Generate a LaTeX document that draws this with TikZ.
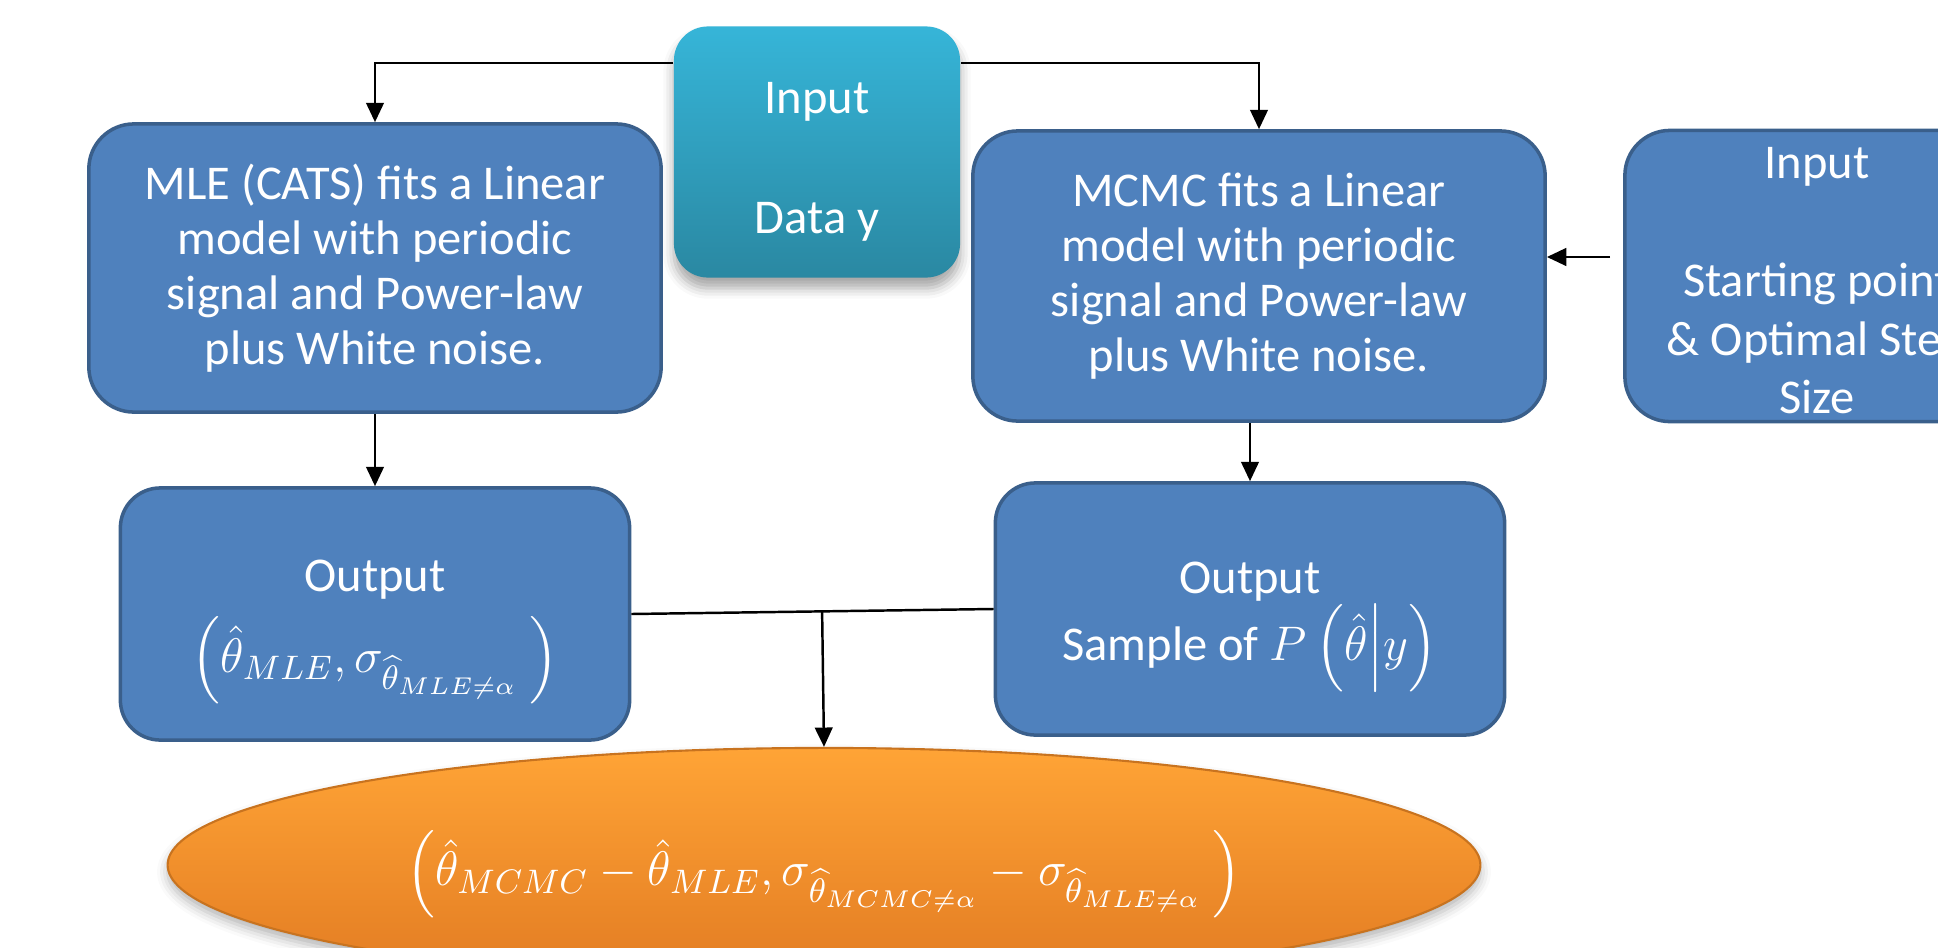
\RequirePackage{fix-cm}
\documentclass[tikz,border=0pt]{standalone}
\usepackage{amsmath,amssymb}
\usepackage{fontspec}
\setmainfont{Carlito}
\usetikzlibrary{arrows.meta,shapes.geometric,shadows.blur,calc}

\definecolor{boxblue}{HTML}{4F81BD}
\definecolor{boxedge}{HTML}{3A5F8B}
\definecolor{cyantop}{HTML}{36B5D8}
\definecolor{cyanbot}{HTML}{2A88A2}
\definecolor{orangetop}{HTML}{FFA436}
\definecolor{orangebot}{HTML}{E27B22}
\definecolor{orangeedge}{HTML}{C8731F}

% extra height on a first line pushes a centred text block down
\newcommand{\lowerby}[1]{\rule{0pt}{#1}}

\tikzset{
  boxtext/.style={text=white, align=center, font=\fontsize{13.8}{15.6}\selectfont, inner sep=0pt},
  flowbox/.style={boxtext, draw=boxedge, line width=1pt, fill=boxblue, rounded corners=0.45cm},
  outbox/.style={flowbox, rounded corners=0.4cm, minimum width=5.09cm, minimum height=2.52cm},
  inputbox/.style={boxtext, rounded corners=0.34cm, top color=cyantop, bottom color=cyanbot,
    blur shadow={shadow xshift=0pt, shadow yshift=-3pt, shadow blur radius=3pt, shadow opacity=35},
    minimum width=2.86cm, minimum height=2.51cm},
  resultshape/.style={boxtext, ellipse, top color=orangetop, bottom color=orangebot,
    draw=orangeedge, line width=0.6pt,
    blur shadow={shadow xshift=0pt, shadow yshift=-2pt, shadow blur radius=3pt, shadow opacity=30},
    minimum width=13.12cm, minimum height=2.34cm},
  link/.style={line width=0.7pt},
  arr/.style={link, -{Triangle[length=5.5pt,width=5pt]}}
}

\begin{document}
\begin{tikzpicture}[x=0.01cm, y=-0.01cm]
  \useasboundingbox (0,0) rectangle (1938,948);
  \clip (0,0) rectangle (1938,948);

  % data source
  \node[inputbox] (input) at (817,152) {\lowerby{14.5pt}Input\\[18.5pt]Data y};

  % the two fitting methods
  \node[flowbox, minimum width=5.72cm, minimum height=2.88cm] (mle) at (375,268)
    {MLE (CATS) fits a Linear\\model with periodic\\signal and Power-law\\plus White noise.};
  \node[flowbox, minimum width=5.72cm, minimum height=2.90cm] (mcmc) at (1259,276)
    {MCMC fits a Linear\\model with periodic\\signal and Power-law\\plus White noise.};

  % sampler settings
  \node[flowbox, minimum width=3.84cm, minimum height=2.91cm,
        font=\fontsize{13.8}{16.6}\selectfont] (start) at (1817,276)
    {\lowerby{11.5pt}Input\\[17pt]Starting point\\\& Optimal Step\\Size};

  % results of each method
  \node[outbox] (outL) at (375,614)
    {\lowerby{19pt}Output\\[4pt]$\left(\hat{\theta}_{MLE},\sigma_{\widehat{\theta}_{MLE\neq\alpha}}\ \right)$};
  \node[outbox] (outR) at (1250,609)
    {\lowerby{19pt}Output\\Sample of $P\left(\hat{\theta}\middle|y\right)$};

  % comparison
  \node[resultshape] (diff) at (824,865)
    {\raisebox{-2.5pt}[\height][\depth]{$\left(\hat{\theta}_{MCMC}-\hat{\theta}_{MLE},\sigma_{\widehat{\theta}_{MCMC\neq\alpha}}-\sigma_{\widehat{\theta}_{MLE\neq\alpha}}\ \right)$}};

  % connectors
  \draw[arr] ([yshift=-0.37cm]input.north west) -| (mle.north);
  \draw[arr] ([yshift=-0.37cm]input.north east) -| (mcmc.north);
  \draw[arr] ([xshift=-0.13cm,yshift=0.19cm]start.west) -- ([yshift=0.19cm]mcmc.east);
  \draw[arr] (mle.south) -- (outL.north);
  \draw[arr] (outR.north |- mcmc.south) -- (outR.north);
  \draw[link] (outL.east) -- (outR.west);
  \coordinate (join) at ($(outL.east)!(diff.north)!(outR.west)$);
  \draw[arr] (join) -- (diff.north);
\end{tikzpicture}
\end{document}
